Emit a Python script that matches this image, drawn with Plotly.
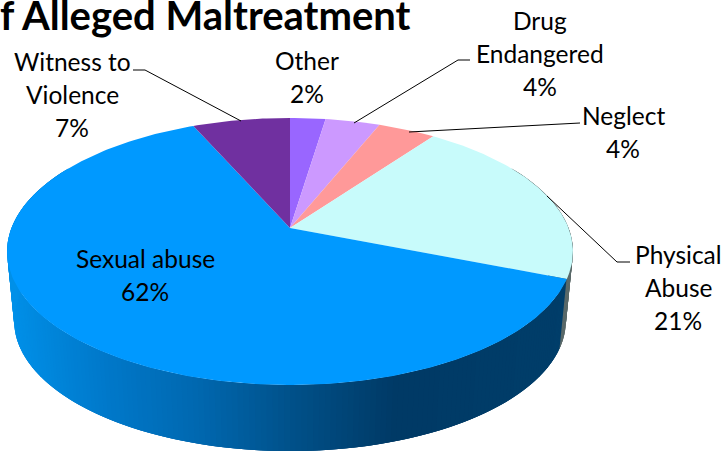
import numpy as np
import plotly.graph_objects as go

# data (clockwise from 12 o'clock)
categories = ["Other", "Drug Endangered", "Neglect", "Physical Abuse", "Sexual abuse", "Witness to Violence"]
values = [2.4, 3.7, 3.9, 21.0, 62.4, 6.6]
label_lines = [["Other"], ["Drug", "Endangered"], ["Neglect"], ["Physical", "Abuse"], ["Sexual abuse"], ["Witness to", "Violence"]]
title_text = "f Alleged Maltreatment"

# styles
colors = ["#9966FF", "#CC99FF", "#FF9999", "#C8FBFB", "#0099FF", "#7030A0"]
label_pos = [(307, 60), (540, 20), (623, 115), (678, 254), (145, 258), (72, 61)]
LINE_H = 33
FONT = "Lato"
CX, CY, R, RY, P = 290.0, 228.0, 278.5, 129.4, 0.176
BOTTOM_SCALE, DEPTH = 0.975, 70.0
wall_x = [0, 10, 100, 200, 300, 400, 560, 722]
wall_rgb = [(0, 144, 232), (0, 144, 232), (0, 122, 204), (0, 104, 176), (0, 80, 136), (0, 58, 102), (0, 62, 106), (0, 62, 106)]


def project(theta):
    X, Z = np.sin(theta), -np.cos(theta)
    s = 1 / (1 - P * Z)
    return CX + R * X * s, CY + RY * Z * s


def project_bottom(theta):
    x, y = project(theta)
    return CX + (x - CX) * BOTTOM_SCALE, CY + (y - CY) * BOTTOM_SCALE + DEPTH


def poly(xs, ys, color):
    return go.Scatter(x=xs, y=ys, mode="lines", fill="toself", fillcolor=color,
                      line=dict(color=color, width=0), hoverinfo="skip", showlegend=False)


total = sum(values)
edges = np.cumsum([0] + values) / total * 2 * np.pi
traces = []

# side wall: overlapping quads coloured by horizontal position, painted right to left
thetas = np.radians(np.arange(60, 300.01, 1.0))
for a, b in zip(thetas[:-3], thetas[3:]):
    xa, ya = project(a)
    xb, yb = project(b)
    xc, yc = project_bottom(b)
    xd, yd = project_bottom(a)
    mx = xa
    if a < edges[4]:
        col = "rgb(90,105,105)"
    else:
        col = "rgb(%d,%d,%d)" % tuple(np.interp(mx, wall_x, [c[i] for c in wall_rgb]) for i in range(3))
    # overlap in paint order hides anti-aliased seams
    t = np.linspace(a, b, 4)
    xt, yt = project(t)
    xu, yu = project_bottom(t[::-1])
    traces.append(poly(np.r_[xt, xu, xt[0]], np.r_[yt, yu, yt[0]], col))

# top face
for i, c in enumerate(colors):
    t = np.linspace(edges[i], edges[i + 1], max(4, int(values[i] * 4)))
    x, y = project(t)
    traces.append(poly(np.r_[CX, x, CX], np.r_[CY, y, CY], c))

fig = go.Figure(traces)

leaders = [
    "M133,70 L145,70 L241,121",
    "M470,60 L458,60 L354,123",
    "M580,123 L409,132",
    "M547,196 L617,262 L630,262",
]
shapes = [dict(type="path", path=p, xref="x", yref="y", line=dict(color="black", width=1)) for p in leaders]

annotations = [dict(x=0, y=15, xshift=-2, text="<b>%s</b>" % title_text, showarrow=False, xanchor="left", yanchor="middle",
                    font=dict(family=FONT, size=40, color="black"))]
for i, lines in enumerate(label_lines):
    pct = "%d%%" % round(values[i] / total * 100)
    x0, y0 = label_pos[i]
    for j, line in enumerate(lines + [pct]):
        annotations.append(dict(x=x0, y=y0 + j * LINE_H, text=line, showarrow=False, xanchor="center", yanchor="middle",
                                font=dict(family=FONT, size=24.5, color="black")))

fig.update_layout(
    width=722, height=451, margin=dict(l=0, r=0, t=0, b=0), autosize=False,
    paper_bgcolor="white", plot_bgcolor="white", showlegend=False,
    xaxis=dict(range=[0, 722], visible=False, fixedrange=True),
    yaxis=dict(range=[451, 0], visible=False, fixedrange=True),
    shapes=shapes, annotations=annotations,
)
fig.write_html("out.html", config=dict(displayModeBar=False),
               post_script="document.body.style.margin='0';document.documentElement.style.overflow='hidden';")
